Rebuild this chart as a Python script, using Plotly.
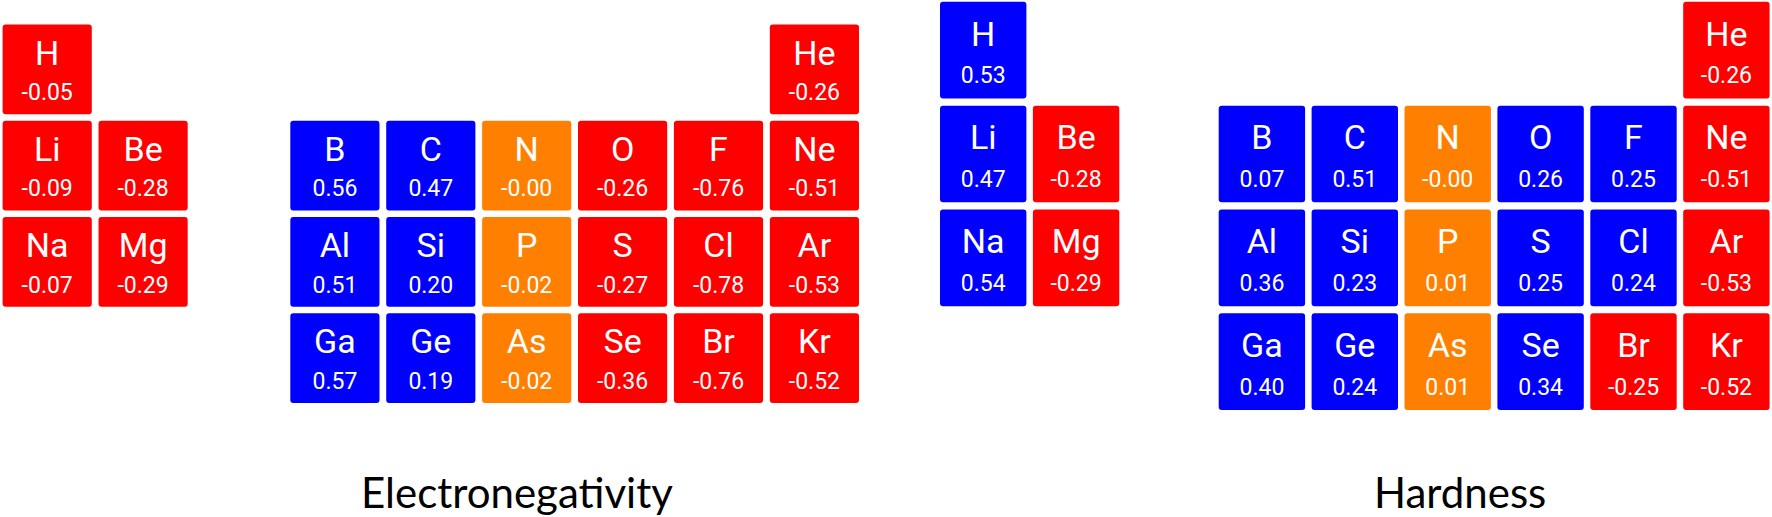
import plotly.graph_objects as go

# element layout (column index, row index) shared by both panels
symbols = ["H", "He",
           "Li", "Be", "B", "C", "N", "O", "F", "Ne",
           "Na", "Mg", "Al", "Si", "P", "S", "Cl", "Ar",
           "Ga", "Ge", "As", "Se", "Br", "Kr"]
cols = [0, 8,
        0, 1, 3, 4, 5, 6, 7, 8,
        0, 1, 3, 4, 5, 6, 7, 8,
        3, 4, 5, 6, 7, 8]
rows = [0, 0,
        1, 1, 1, 1, 1, 1, 1, 1,
        2, 2, 2, 2, 2, 2, 2, 2,
        3, 3, 3, 3, 3, 3]

electronegativity = [-0.05, -0.26,
                     -0.09, -0.28, 0.56, 0.47, -0.0, -0.26, -0.76, -0.51,
                     -0.07, -0.29, 0.51, 0.20, -0.02, -0.27, -0.78, -0.53,
                     0.57, 0.19, -0.02, -0.36, -0.76, -0.52]
hardness = [0.53, -0.26,
            0.47, -0.28, 0.07, 0.51, -0.0, 0.26, 0.25, -0.51,
            0.54, -0.29, 0.36, 0.23, 0.01, 0.25, 0.24, -0.53,
            0.40, 0.24, 0.01, 0.34, -0.25, -0.52]

titles = ["Electronegativity", "Hardness"]

RED, BLUE, ORANGE = "#ff0000", "#0000ff", "#ff8000"


def tile_color(v):
    if v >= 0.03:
        return BLUE
    if v <= -0.03:
        return RED
    return ORANGE


def tile_path(cx, cy, hw, hh, rx, ry):
    x0, x1, y0, y1 = cx - hw, cx + hw, cy - hh, cy + hh
    return (f"M {x0 + rx},{y0} L {x1 - rx},{y0} Q {x1},{y0} {x1},{y0 + ry} "
            f"L {x1},{y1 - ry} Q {x1},{y1} {x1 - rx},{y1} "
            f"L {x0 + rx},{y1} Q {x0},{y1} {x0},{y1 - ry} "
            f"L {x0},{y0 + ry} Q {x0},{y0} {x0 + rx},{y0} Z")


W, H = 1772, 517
# per panel: x domain (px), col0 centre px, col pitch, row0 centre px, row pitch
panels = [
    dict(vals=electronegativity, dom=(0, 880), cx0=47.2, px=95.9, cy0=69.3, py=96.3,
         sym_dy=-0.138, val_dy=0.26, title_x=516.7),
    dict(vals=hardness, dom=(890, 1772), cx0=983.2, px=92.9, cy0=50.2, py=103.8,
         sym_dy=-0.127, val_dy=0.263, title_x=1460),
]

fig = go.Figure()
shapes = []
annotations = []
for i, p in enumerate(panels):
    sfx = "" if i == 0 else str(i + 1)
    xr = [(p["dom"][0] - p["cx0"]) / p["px"], (p["dom"][1] - p["cx0"]) / p["px"]]
    yr = [(H - p["cy0"]) / p["py"], (0 - p["cy0"]) / p["py"]]
    fig.update_layout(**{
        "xaxis" + sfx: dict(domain=[p["dom"][0] / W, p["dom"][1] / W], range=xr, visible=False,
                            anchor="y" + sfx, fixedrange=True),
        "yaxis" + sfx: dict(domain=[0, 1], range=yr, visible=False, anchor="x" + sfx,
                            fixedrange=True),
    })
    rx, ry = 3 / p["px"], 3 / p["py"]
    for c, r, v in zip(cols, rows, p["vals"]):
        shapes.append(dict(type="path", xref="x" + sfx, yref="y" + sfx,
                           path=tile_path(c, r, 0.465, 0.466, rx, ry),
                           fillcolor=tile_color(v), line=dict(width=0), layer="below"))
    fig.add_trace(go.Scatter(
        x=cols, y=[r + p["sym_dy"] for r in rows], text=symbols, mode="text",
        textposition="middle center", textfont=dict(family="Roboto", size=34, color="white"),
        xaxis="x" + sfx, yaxis="y" + sfx, hoverinfo="skip", showlegend=False))
    fig.add_trace(go.Scatter(
        x=cols, y=[r + p["val_dy"] for r in rows], text=[f"{v:.2f}" for v in p["vals"]],
        mode="text", textposition="middle center",
        textfont=dict(family="Roboto", size=23, color="white"),
        xaxis="x" + sfx, yaxis="y" + sfx, hoverinfo="skip", showlegend=False))
    annotations.append(dict(text=titles[i], x=p["title_x"] / W, y=1 - 492 / H,
                            xref="paper", yref="paper", xanchor="center", yanchor="middle",
                            showarrow=False, font=dict(family="Lato", size=42, color="black")))

fig.update_layout(width=W, height=H, margin=dict(l=0, r=0, t=0, b=0),
                  paper_bgcolor="white", plot_bgcolor="white",
                  shapes=shapes, annotations=annotations)

# drop the default page margin so the figure sits at the window's corner
fig.write_html("out.html", config={"displayModeBar": False},
               post_script="document.body.style.margin='0';")
